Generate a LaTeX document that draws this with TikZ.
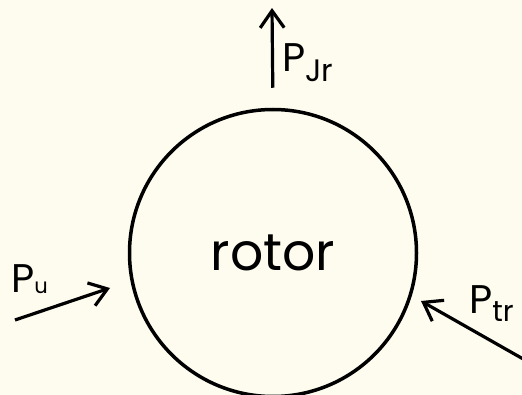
\documentclass[tikz,border=0pt]{standalone}
\usepackage{fontspec}
\setmainfont{Poppins}
\usepackage{xcolor}
\usepackage{tikz}
\usetikzlibrary{arrows.meta}

\definecolor{paper}{HTML}{FEFCEF}
% P with a lowered index: size, drop, index
\newcommand{\pwr}[3]{P\raisebox{-#2pt}{\fontsize{#1}{#1}\selectfont #3}}

\begin{document}
\begin{tikzpicture}[x=1pt, y=-1pt,
    power/.style={line width=3.2pt, -{Straight Barb[length=17pt, width=24pt, line width=3.2pt]}},
    lbl/.style={font=\fontsize{40}{40}\selectfont, inner sep=0pt, anchor=base west}]
        % sheet
        \fill[paper] (0,0) rectangle (522,395);
        \clip (0,0) rectangle (522,395);

        % Rotor
        \node[draw, circle, line width=3.5pt, minimum size=287pt, inner sep=0pt,
              font=\fontsize{52}{52}\selectfont] (rotor) at (273,253) {rotor\hspace{18pt}};

        % Power out at the top
        \coordinate (jr-head) at (272,8);
        \draw[power, shorten <=20pt] (rotor.north) -- (jr-head);
        \node[lbl] (jr) at (282,72) {\pwr{31}{10}{Jr}};

        % Power in from the left
        \coordinate (pu-tail) at (15,320);
        \coordinate (pu-head) at (110,288);
        \draw[power] (pu-tail) -- (pu-head);
        \node[lbl] (pu) at (11,293) {\pwr{21}{1}{u}};

        % Power in from the right
        \coordinate (tr-tail) at (532,364);
        \coordinate (tr-head) at (421,301);
        \draw[power] (tr-tail) -- (tr-head);
        \node[lbl] (tr) at (469,313) {\pwr{29}{8}{tr}};
    \end{tikzpicture}
\end{document}
